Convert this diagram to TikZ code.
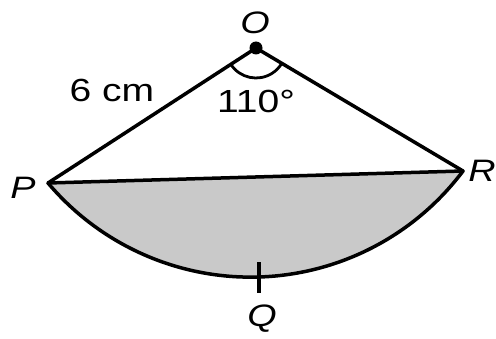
\documentclass[tikz,border=0pt]{standalone}
\usepackage{fontspec}
\setmainfont{Liberation Sans}
\begin{document}
\begin{tikzpicture}[x=1pt,y=1pt,
  edge/.style={line width=3.5pt,line cap=round,line join=round},
  lbl/.style={font=\fontsize{31}{31}\selectfont\itshape,xscale=1.22,inner sep=0pt},
  num/.style={font=\fontsize{32}{32}\selectfont,xscale=1.22,inner sep=0pt}]
\useasboundingbox (0,0) rectangle (496,338);
\clip (0,0) rectangle (496,338);
\coordinate (O) at (256,290);
\coordinate (P) at (48,155);
\coordinate (R) at (463,167);
\coordinate (C) at (250.72,326.23);
\coordinate (Q) at (259,61.2);
\coordinate (Qt) at (259,76);
\coordinate (Qb) at (259,45);
% shaded segment
\fill[gray!42] (P) arc[start angle=220.19,end angle=323.13,radius=265.4] -- cycle;
\draw[edge] (P) arc[start angle=220.19,end angle=323.13,radius=265.4];
\draw[edge] (P) -- (R);
\draw[edge] (P) -- (O) -- (R);
\draw[line width=2.8pt] ([shift={(213:30)}]O) arc[start angle=213,end angle=329.3,radius=30];
\fill (O) circle (6.5);
\draw[line width=3.5pt] (Qt) -- (Qb);
\node[lbl] (Ol) at (255,315) {O};
\node[lbl] (Pl) at (23,150) {P};
\node[lbl] (Rl) at (482,167) {R};
\node[lbl] (Ql) at (262,19) {Q};
\node[num] (len) at (112,248) {6 cm};
\node[num] (ang) at (256,237) {110°};
\end{tikzpicture}
\end{document}
